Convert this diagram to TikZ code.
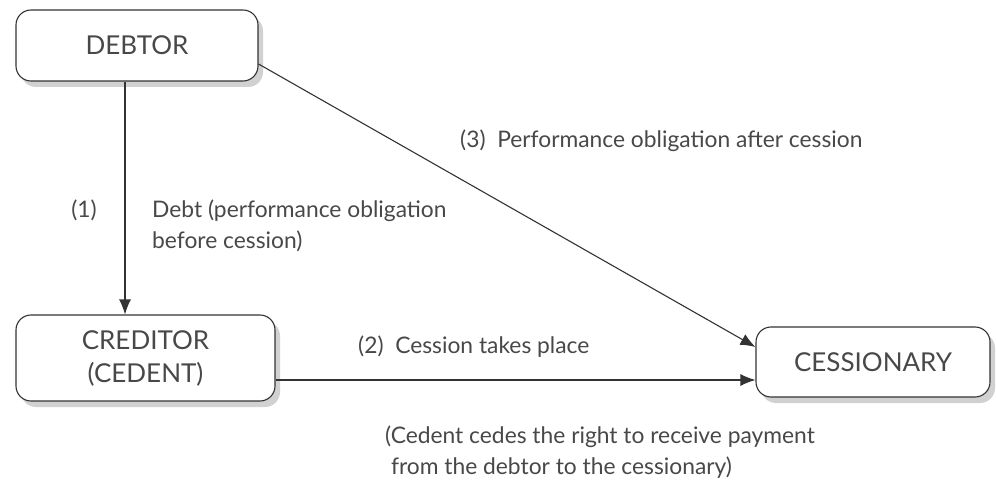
\documentclass[tikz,border=0pt]{standalone}
\usepackage{fontspec}
\setmainfont{Lato}
\usetikzlibrary{arrows.meta,shadows}
\definecolor{ink}{HTML}{333333}
\definecolor{txt}{HTML}{484848}
\tikzset{
  entity/.style={draw=ink, line width=1.1pt, rounded corners=15pt, fill=white,
    align=center, text=txt, font=\fontsize{26}{33}\selectfont, inner sep=0pt,
    drop shadow={shadow xshift=5pt, shadow yshift=-6pt, fill=black!18, opacity=1}},
  lbl/.style={text=txt, font=\fontsize{22.8}{31}\selectfont, inner sep=0pt, align=left},
  conn/.style={draw=ink, line width=1.1pt, -{Latex[length=15pt,width=12pt]}}
}
\begin{document}
\begin{tikzpicture}[x=1pt,y=-1pt]
\useasboundingbox (0,0) rectangle (996,497);
\node[entity, minimum width=242pt, minimum height=71pt] (debtor) at (137,45.5) {DEBTOR};
\node[entity, minimum width=259pt, minimum height=86pt] (creditor) at (145.5,358) {CREDITOR\\(CEDENT)};
\node[entity, minimum width=234pt, minimum height=70pt] (cess) at (873,362) {CESSIONARY};

\draw[conn] ([xshift=-12pt]debtor.south) -- ([xshift=-20.5pt]creditor.north);
\draw[conn] ([yshift=-18.5pt]debtor.east) -- ([yshift=15pt]cess.west);
\draw[conn] ([yshift=-22pt]creditor.east) coordinate (c2) -- (c2 -| cess.west);

\node[lbl, anchor=west] (l3) at (460,141) {(3)\ \ Performance obligation after cession};
\node[lbl] (l1n) at (84,210) {(1)};
\node[lbl, anchor=west] (l1) at (152,225.5) {Debt (performance obligation\\before cession)};
\node[lbl, anchor=west] (l2) at (358,347) {(2)\ \ Cession takes place};
\node[lbl, anchor=west] (l4) at (385,452.5) {(Cedent cedes the right to receive payment\\\ from the debtor to the cessionary)};
\end{tikzpicture}
\end{document}
